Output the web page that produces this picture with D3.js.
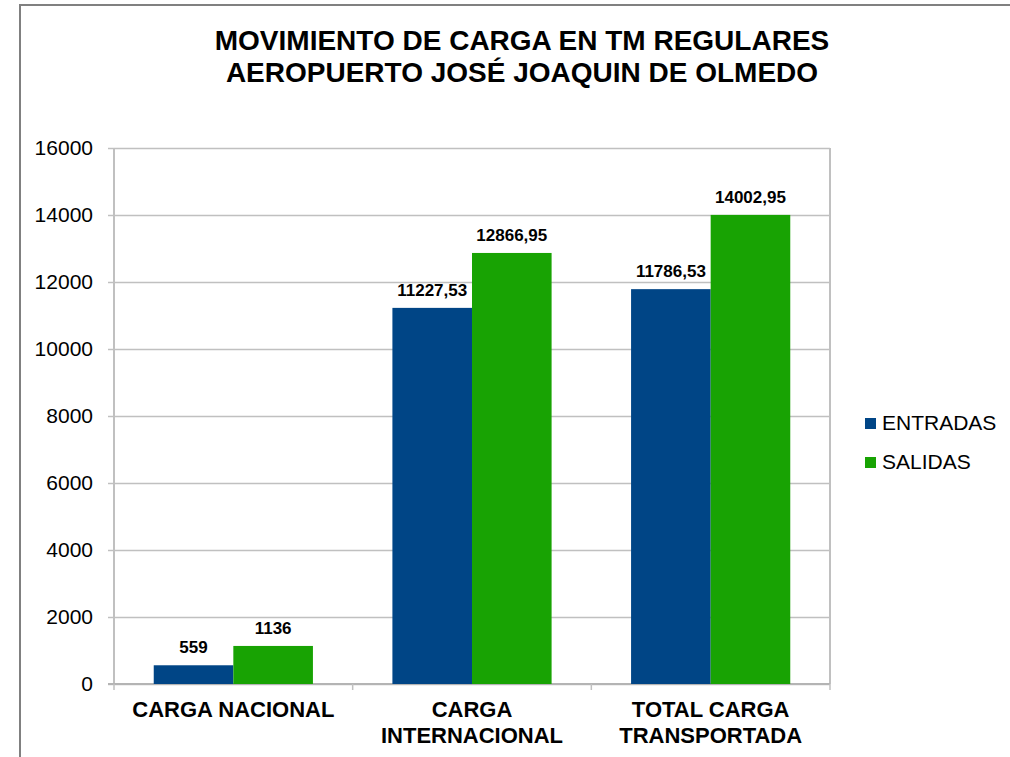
<!DOCTYPE html>
<html>
<head>
<meta charset="utf-8">
<script src="https://cdn.jsdelivr.net/npm/d3@7"></script>
<style>
body { margin: 0; background: #fff; }
text { font-family: "Liberation Sans", Arial, sans-serif; fill: #000; }
.grid line { stroke: #c0c0c0; stroke-width: 1.5; }
.grid path { display: none; }
.title { font-size: 28px; font-weight: bold; }
.tick text { font-size: 21px; }
.cat { font-size: 22px; font-weight: bold; }
.value { font-size: 17px; font-weight: bold; }
.legend { font-size: 21px; }
</style>
</head>
<body>
<div id="chart"></div>
<script>
var categories = [["CARGA NACIONAL"], ["CARGA", "INTERNACIONAL"], ["TOTAL CARGA", "TRANSPORTADA"]];
var seriesNames = ["ENTRADAS", "SALIDAS"];
var entradas = [559, 11227.53, 11786.53];
var salidas = [1136, 12866.95, 14002.95];
var entradasText = ["559", "11227,53", "11786,53"];
var salidasText = ["1136", "12866,95", "14002,95"];
var yTicks = [0, 2000, 4000, 6000, 8000, 10000, 12000, 14000, 16000];
var colors = ["#004586", "#18a303"];

var svg = d3.select('#chart').append('svg').attr('width', 1010).attr('height', 757);

// outer frame (runs off the right and bottom edges)
svg.append('path')
    .attr('d', 'M20,770 L20,5 L1020,5')
    .attr('fill', 'none')
    .attr('stroke', '#808080')
    .attr('stroke-width', 2);

var plotLeft = 114, plotRight = 830, plotTop = 148, plotBottom = 684;
var width = plotRight - plotLeft;
var height = plotBottom - plotTop;

var chart = svg.append('g').attr('transform', `translate(${plotLeft}, ${plotTop})`);

var keys = categories.map((c, i) => i);
var xScale = d3.scaleBand()
    .domain(keys)
    .range([0, width])
    .paddingInner(0.333)
    .paddingOuter(0.1665);

var xSub = d3.scaleBand()
    .domain([0, 1])
    .range([0, xScale.bandwidth()]);

var yScale = d3.scaleLinear()
    .domain([0, 16000])
    .range([height, 0]);

// grid lines
chart.append('g')
    .attr('class', 'grid')
    .call(d3.axisLeft(yScale).tickValues(yTicks).tickSize(-width).tickFormat(''));

// left axis with labels
var yAxis = chart.append('g')
    .call(d3.axisLeft(yScale).tickValues(yTicks).tickSize(6).tickPadding(15).tickFormat(d3.format('d')));
yAxis.select('.domain').attr('stroke', '#c0c0c0').attr('stroke-width', 2).attr('d', `M0,0V${height}`);
yAxis.selectAll('.tick line').attr('stroke', '#c0c0c0').attr('stroke-width', 1.5);
yAxis.selectAll('.tick text').attr('fill', '#000');

// right border of plot
chart.append('line')
    .attr('x1', width).attr('x2', width)
    .attr('y1', 0).attr('y2', height)
    .attr('stroke', '#c0c0c0').attr('stroke-width', 2);

// bottom axis with boundary ticks
var step = xScale.step();
var boundaries = d3.range(categories.length + 1).map(i => xScale(0) - xScale.paddingInner() * step / 2 + i * step);
chart.append('line')
    .attr('x1', -6).attr('x2', width)
    .attr('y1', height).attr('y2', height)
    .attr('stroke', '#b4b4b4').attr('stroke-width', 2);
chart.selectAll('.xtick')
    .data(boundaries)
    .enter()
    .append('line')
    .attr('class', 'xtick')
    .attr('x1', d => d).attr('x2', d => d)
    .attr('y1', height).attr('y2', height + 6)
    .attr('stroke', '#c0c0c0').attr('stroke-width', 1.5);

// bars
var rows = keys.map(i => ({ i: i, vals: [entradas[i], salidas[i]], txt: [entradasText[i], salidasText[i]] }));
var groups = chart.selectAll('.grp')
    .data(rows)
    .enter()
    .append('g')
    .attr('class', 'grp')
    .attr('transform', d => `translate(${xScale(d.i)}, 0)`);

groups.selectAll('rect')
    .data(d => d.vals.map((v, s) => ({ v: v, s: s })))
    .enter()
    .append('rect')
    .attr('x', d => xSub(d.s))
    .attr('y', d => yScale(d.v))
    .attr('width', xSub.bandwidth())
    .attr('height', d => height - yScale(d.v))
    .attr('fill', d => colors[d.s]);

groups.selectAll('.value')
    .data(d => d.vals.map((v, s) => ({ v: v, s: s, t: d.txt[s] })))
    .enter()
    .append('text')
    .attr('class', 'value')
    .attr('x', d => xSub(d.s) + xSub.bandwidth() / 2)
    .attr('y', d => yScale(d.v) - 12)
    .attr('text-anchor', 'middle')
    .text(d => d.t);

// category labels
var catText = chart.selectAll('.cat')
    .data(categories)
    .enter()
    .append('text')
    .attr('class', 'cat')
    .attr('text-anchor', 'middle')
    .attr('transform', (d, i) => `translate(${xScale(i) + xScale.bandwidth() / 2}, ${height + 33})`);
catText.selectAll('tspan')
    .data(d => d)
    .enter()
    .append('tspan')
    .attr('x', 0)
    .attr('y', (d, j) => j * 26)
    .text(d => d);

// legend
var legend = svg.append('g').attr('transform', 'translate(865, 418)');
var items = legend.selectAll('g')
    .data(seriesNames)
    .enter()
    .append('g')
    .attr('transform', (d, i) => `translate(0, ${i * 39})`);
items.append('rect')
    .attr('width', 11).attr('height', 11)
    .attr('fill', (d, i) => colors[i]);
items.append('text')
    .attr('class', 'legend')
    .attr('x', 17)
    .attr('y', 12)
    .text(d => d);

// title
svg.append('text')
    .attr('class', 'title')
    .attr('x', 522)
    .attr('y', 50)
    .attr('text-anchor', 'middle')
    .text('MOVIMIENTO DE CARGA EN TM REGULARES');
svg.append('text')
    .attr('class', 'title')
    .attr('x', 522)
    .attr('y', 82)
    .attr('text-anchor', 'middle')
    .text('AEROPUERTO JOSÉ JOAQUIN DE OLMEDO');
</script>
</body>
</html>
